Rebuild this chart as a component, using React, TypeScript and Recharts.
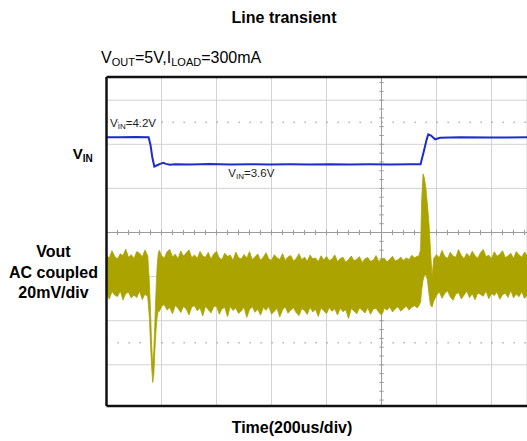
import React from 'react';
import { ComposedChart, Area, Line, XAxis, YAxis, CartesianGrid, ReferenceLine } from 'recharts';

// VIN trace (time in us, volts)
const vinTime = [0, 49, 104, 153, 160, 167, 174, 184, 195, 207, 216, 231, 249, 304, 376, 449, 522, 595, 667, 740, 813, 885, 958, 1031, 1104, 1142, 1155, 1164, 1170, 1180, 1195, 1213, 1285, 1395, 1530];
const vinVolt = [4.2, 4.2, 4.205, 4.2, 4.03, 3.74, 3.55, 3.58, 3.61, 3.635, 3.61, 3.59, 3.6, 3.595, 3.605, 3.598, 3.603, 3.597, 3.602, 3.598, 3.604, 3.599, 3.601, 3.597, 3.602, 3.6, 3.92, 4.15, 4.267, 4.24, 4.156, 4.19, 4.2, 4.195, 4.2];

// Vout AC coupled trace envelope (time in us, mV)
const voutTime = [
  0, 10, 20, 30, 40, 50, 60, 70, 80, 90, 100, 110, 120, 130, 140, 150,
  156, 160, 164, 168, 172, 176, 180, 184, 188,
  192, 200, 210, 220, 230, 240, 250, 260, 270, 280, 290, 300, 310, 320, 330, 340, 350, 360, 370, 380, 390,
  400, 410, 420, 430, 440, 450, 460, 470, 480, 490, 500, 510, 520, 530, 540, 550, 560, 570, 580, 590,
  600, 610, 620, 630, 640, 650, 660, 670, 680, 690, 700, 710, 720, 730, 740, 750, 760, 770, 780, 790,
  800, 810, 820, 830, 840, 850, 860, 870, 880, 890, 900, 910, 920, 930, 940, 950, 960, 970, 980, 990,
  1000, 1010, 1020, 1030, 1040, 1050, 1060, 1070, 1080, 1090, 1100, 1110, 1120, 1130,
  1136, 1142, 1146, 1151, 1156, 1162, 1167, 1173, 1178, 1184, 1190,
  1200, 1210, 1220, 1230, 1240, 1250, 1260, 1270, 1280, 1290, 1300, 1310, 1320, 1330, 1340, 1350, 1360, 1370, 1380, 1390,
  1400, 1410, 1420, 1430, 1440, 1450, 1460, 1470, 1480, 1490, 1500, 1510, 1520, 1530,
];
const voutHigh = [
  10.3, 9.1, 12.4, 9.8, 8.7, 11.0, 10.2, 13.1, 9.4, 10.6, 8.9, 12.0, 11.3, 9.6, 12.7, 10.0,
  -2, -15, -30, -40, -33, -20, -6, 5, 11,
  12.6, 10.1, 9.0, 11.9, 13.0, 9.6, 10.8, 8.7, 12.3, 9.9, 11.4, 12.8, 9.2, 10.5, 8.9, 12.1, 10.0, 9.4, 11.7, 8.6, 10.9,
  12.2, 9.1, 8.4, 11.3, 9.8, 10.4, 8.0, 11.8, 9.3, 8.6, 10.7, 9.0, 12.0, 8.3, 9.7, 10.9, 8.1, 9.4, 11.5, 8.8,
  7.9, 10.6, 9.2, 8.4, 11.1, 8.0, 9.6, 10.2, 7.7, 8.9, 11.0, 8.3, 9.5, 7.6, 10.4, 8.7, 9.1, 7.4, 10.1, 8.2,
  9.8, 7.9, 8.6, 10.5, 7.5, 8.9, 9.4, 7.2, 8.4, 10.0, 7.8, 8.5, 9.7, 7.0, 8.8, 9.3, 7.6, 8.1, 10.2, 7.4,
  8.7, 9.0, 7.3, 8.5, 9.9, 7.7, 8.3, 9.5, 8.0, 9.1, 8.4, 10.3, 9.2, 9.9,
  10.0, 13.0, 35.5, 47.3, 45.5, 40.0, 33.2, 24.0, 12.7, 0.5, 9.0,
  10.6, 9.2, 12.5, 9.8, 8.9, 11.7, 10.0, 9.4, 12.9, 10.3, 8.8, 11.2, 9.6, 12.2, 10.1, 9.0, 11.6, 13.0, 9.7, 10.4,
  8.7, 11.9, 9.9, 10.8, 12.4, 9.3, 10.0, 11.3, 8.9, 12.0, 10.5, 9.5, 11.8, 10.2,
];
const voutLow = [
  -7.2, -9.6, -6.1, -7.8, -8.4, -5.9, -10.0, -7.0, -6.5, -9.1, -7.7, -8.9, -6.0, -9.8, -7.3, -8.6,
  -18, -30, -40, -47.5, -44, -33, -24, -18, -15,
  -15.2, -13.0, -12.1, -14.6, -13.4, -16.3, -12.5, -13.8, -15.7, -12.9, -14.1, -16.8, -13.2, -12.6, -14.9, -13.5, -17.3, -12.8, -14.4, -15.9, -13.1,
  -12.7, -16.5, -14.0, -13.3, -17.6, -12.9, -14.8, -13.6, -16.1, -15.0, -13.2, -17.9, -14.3, -13.0, -15.6, -14.1, -16.9, -13.4, -14.7, -12.9,
  -16.4, -15.2, -13.8, -17.7, -14.5, -13.1, -16.0, -14.6, -13.5, -15.8, -17.1, -13.9, -14.8, -16.6, -13.3, -15.4, -14.2, -17.5, -13.6, -14.9,
  -16.2, -13.4, -15.1, -14.0, -16.8, -13.7, -15.3, -14.4, -18.4, -13.9, -15.0, -16.3, -13.6, -14.7, -15.9, -13.5, -16.5, -14.1, -13.8, -15.6,
  -16.9, -13.7, -14.6, -13.2, -15.4, -14.0, -13.1, -15.1, -13.9, -12.8, -14.5, -13.3, -12.6, -13.6,
  -12.5, -11.0, -5.5, -1.0, 1.4, 1.4, -1.0, -7.7, -12.3, -13.2, -10.5,
  -7.9, -6.3, -9.2, -7.0, -5.8, -8.6, -10.1, -7.4, -6.6, -9.5, -7.8, -6.0, -8.9, -7.2, -9.9, -6.8, -7.5, -8.3, -5.9, -9.4,
  -7.1, -8.0, -6.4, -9.7, -7.6, -6.9, -8.8, -5.7, -9.0, -7.3, -8.5, -6.2, -9.3, -7.7,
];

const gridXTicks = [200, 400, 600, 800, 1000, 1200, 1400];
const gridYTicks = [-3, -2, -1, 0, 1, 2, 3];

const X_MAX = 1529;
const DIV_MIN = -3.934;
const DIV_MAX = 3.526;
const VIN_DOMAIN: [number, number] = [-1.771, 5.541];
const VOUT_DOMAIN: [number, number] = [-58.18, 91.36];

const vinData = vinTime.map((t, i) => ({ t, v: vinVolt[i] }));
const voutData = voutTime.map((t, i) => ({ t, r: [voutLow[i], voutHigh[i]] }));

const hTicks: number[] = [];
for (let x = 40; x < X_MAX; x += 40) hTicks.push(x);
const vTicks: number[] = [];
for (let k = -19; k <= 17; k++) vTicks.push(k * 0.2);

const FONT = '"Liberation Sans", Arial, sans-serif';

export default function App() {
  return (
    <div style={{ position: 'absolute', left: 0, top: 0, width: 527, height: 441, overflow: 'hidden', background: '#fff' }}>
      <ComposedChart width={527} height={441} margin={{ top: 77, right: 0, bottom: 35, left: 106.5 }}>
        <XAxis type="number" dataKey="t" domain={[0, X_MAX]} ticks={gridXTicks} hide allowDataOverflow />
        <YAxis yAxisId="div" type="number" domain={[DIV_MIN, DIV_MAX]} ticks={gridYTicks} hide allowDataOverflow />
        <YAxis yAxisId="vin" type="number" domain={VIN_DOMAIN} hide allowDataOverflow />
        <YAxis yAxisId="vout" type="number" domain={VOUT_DOMAIN} hide allowDataOverflow />
        <CartesianGrid yAxisId="div" stroke="#d2d2d2" strokeWidth={1} />
        <ReferenceLine yAxisId="div" y={2.5} stroke="#a8a8a8" strokeWidth={1.3} strokeDasharray="1.3 9.7" zIndex={-50} />
        <ReferenceLine yAxisId="div" y={-2.5} stroke="#a8a8a8" strokeWidth={1.3} strokeDasharray="1.3 9.7" zIndex={-50} />
        <ReferenceLine yAxisId="div" y={0} stroke="#9c9c9c" strokeWidth={1} zIndex={-50} />
        <ReferenceLine yAxisId="div" x={1000} stroke="#9c9c9c" strokeWidth={1} zIndex={-50} />
        {hTicks.map((x) => (
          <ReferenceLine key={'h' + x} yAxisId="div" segment={[{ x, y: -0.06 }, { x, y: 0.06 }]} stroke="#9c9c9c" strokeWidth={1} zIndex={-50} />
        ))}
        {vTicks.map((y) => (
          <ReferenceLine key={'v' + y} yAxisId="div" segment={[{ x: 992, y }, { x: 1008, y }]} stroke="#9c9c9c" strokeWidth={1} zIndex={-50} />
        ))}
        <Area
          data={voutData}
          yAxisId="vout"
          dataKey="r"
          type="linear"
          stroke="#aba300"
          strokeWidth={0.8}
          fill="#aba300"
          fillOpacity={1}
          isAnimationActive={false}
          dot={false}
          activeDot={false}
        />
        <Line
          data={vinData}
          yAxisId="vin"
          dataKey="v"
          type="linear"
          stroke="#1f2ccc"
          strokeWidth={2}
          dot={false}
          activeDot={false}
          isAnimationActive={false}
        />
        <ReferenceLine yAxisId="div" x={0} stroke="#111" strokeWidth={2.5} zIndex={1500} />
        <ReferenceLine yAxisId="div" y={DIV_MAX} stroke="#111" strokeWidth={2.5} zIndex={1500} />
        <ReferenceLine yAxisId="div" y={DIV_MIN} stroke="#111" strokeWidth={2.5} zIndex={1500} />
      </ComposedChart>
      <svg width={527} height={441} style={{ position: 'absolute', left: 0, top: 0, pointerEvents: 'none' }} fontFamily={FONT}>
        <text x={284} y={23} textAnchor="middle" fontSize={16} fontWeight="bold" fill="#000">Line transient</text>
        <text x={101} y={62.5} fontSize={16} fill="#000">
          V<tspan fontSize={11} dy={3}>OUT</tspan>
          <tspan dy={-3}>=5V,I</tspan>
          <tspan fontSize={11} dy={3}>LOAD</tspan>
          <tspan dy={-3}>=300mA</tspan>
        </text>
        <text x={72.7} y={159.3} fontSize={15} fontWeight="bold" fill="#000">
          V<tspan fontSize={10} dy={3}>IN</tspan>
        </text>
        <text x={53.5} y={256.7} textAnchor="middle" fontSize={16} fontWeight="bold" fill="#000">Vout</text>
        <text x={53.5} y={277.7} textAnchor="middle" fontSize={16} fontWeight="bold" fill="#000">AC coupled</text>
        <text x={53.5} y={297.7} textAnchor="middle" fontSize={16} fontWeight="bold" fill="#000">20mV/div</text>
        <text x={292} y={433} textAnchor="middle" fontSize={16} fontWeight="bold" fill="#000">Time(200us/div)</text>
        <text x={110} y={126.7} fontSize={11.5} fill="#222">
          V<tspan fontSize={8} dy={2}>IN</tspan>
          <tspan dy={-2}>=4.2V</tspan>
        </text>
        <text x={228.3} y={176.7} fontSize={11.5} fill="#222">
          V<tspan fontSize={8} dy={2}>IN</tspan>
          <tspan dy={-2}>=3.6V</tspan>
        </text>
      </svg>
    </div>
  );
}
